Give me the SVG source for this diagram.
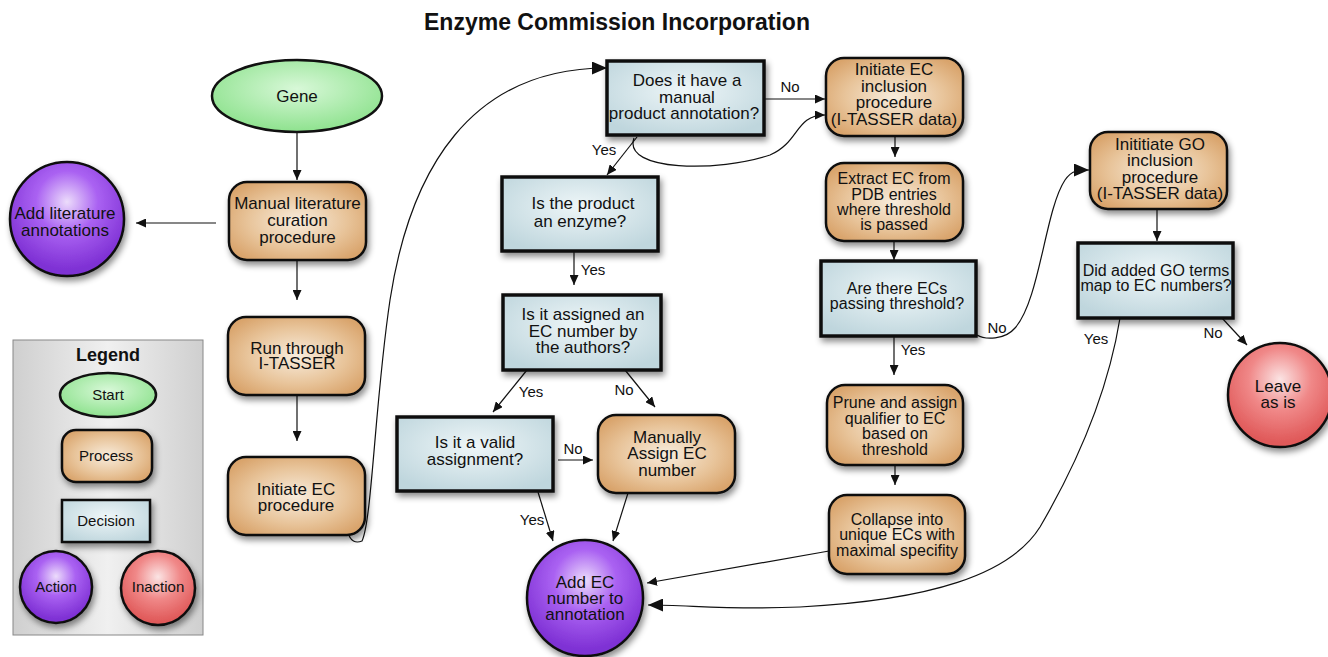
<svg xmlns="http://www.w3.org/2000/svg" width="1328" height="657" viewBox="0 0 1328 657">
  <style>
    text { font-family: "Liberation Sans", Arial, sans-serif; fill: #111; text-anchor: middle; }
    .t { font-size: 17px; }
    .s { font-size: 16px; }
    .lbl { font-size: 15px; }
    .title { font-size: 23px; font-weight: bold; }
    .legend-title { font-size: 18px; font-weight: bold; }
    .proc { fill: url(#gProc); stroke: #111; stroke-width: 2.5; filter: url(#shadow); }
    .dec { fill: url(#gDec); stroke: #111; stroke-width: 3.5; filter: url(#shadow); }
    .start { fill: url(#gStart); stroke: #111; stroke-width: 2.5; }
    .act { fill: url(#gAct); stroke: #111; stroke-width: 2.5; filter: url(#shadow); }
    .inact { fill: url(#gInact); stroke: #111; stroke-width: 2.5; filter: url(#shadow); }
    .edge { fill: none; stroke: #111; stroke-width: 1.2; marker-end: url(#arrow); }
    .edge-big { fill: none; stroke: #111; stroke-width: 1.2; marker-end: url(#arrowBig); }
  </style>
  <defs>
    <radialGradient id="gProc" cx="0.5" cy="0.5" r="0.6">
      <stop offset="0" stop-color="#f8ecdc"/>
      <stop offset="0.6" stop-color="#e8c49a"/>
      <stop offset="1" stop-color="#d9a46c"/>
    </radialGradient>
    <radialGradient id="gDec" cx="0.5" cy="0.4" r="0.65">
      <stop offset="0" stop-color="#eef6f8"/>
      <stop offset="1" stop-color="#bfd6dd"/>
    </radialGradient>
    <radialGradient id="gStart" cx="0.5" cy="0.4" r="0.6">
      <stop offset="0" stop-color="#d8f8d8"/>
      <stop offset="1" stop-color="#8ee28e"/>
    </radialGradient>
    <radialGradient id="gAct" cx="0.5" cy="0.35" r="0.6">
      <stop offset="0" stop-color="#ecdcfb"/>
      <stop offset="0.45" stop-color="#aa62f2"/>
      <stop offset="1" stop-color="#7e30d4"/>
    </radialGradient>
    <radialGradient id="gInact" cx="0.5" cy="0.35" r="0.6">
      <stop offset="0" stop-color="#fbe4e4"/>
      <stop offset="0.5" stop-color="#f08888"/>
      <stop offset="1" stop-color="#e05a5a"/>
    </radialGradient>
    <linearGradient id="gLegend" x1="0" y1="0" x2="1" y2="0">
      <stop offset="0" stop-color="#cfcfcf"/>
      <stop offset="0.5" stop-color="#f0f0f0"/>
      <stop offset="1" stop-color="#cfcfcf"/>
    </linearGradient>
    <filter id="shadow" x="-20%" y="-20%" width="140%" height="150%">
      <feDropShadow dx="2" dy="4" stdDeviation="3" flood-color="#000" flood-opacity="0.45"/>
    </filter>
    <marker id="arrow" markerUnits="userSpaceOnUse" markerWidth="11" markerHeight="9" refX="10" refY="4.5" orient="auto">
      <path d="M0,0 L10,4.5 L0,9 z" fill="#111"/>
    </marker>
    <marker id="arrowBig" markerUnits="userSpaceOnUse" markerWidth="16" markerHeight="13" refX="15" refY="6.5" orient="auto">
      <path d="M0,0 L15,6.5 L0,13 z" fill="#111"/>
    </marker>
  </defs>

  <rect width="1328" height="657" fill="#fff"/>

  <text class="title" x="617" y="30">Enzyme Commission Incorporation</text>

  <!-- legend -->
  <g id="legend">
    <rect x="13" y="340" width="190" height="295" fill="url(#gLegend)" stroke="#888" stroke-width="1"/>
    <text class="legend-title" x="108" y="361">Legend</text>
    <ellipse class="start" cx="108" cy="395" rx="48" ry="22"/>
    <text class="lbl" x="108" y="400">Start</text>
    <rect class="proc" x="62" y="430" width="90" height="52" rx="14"/>
    <text class="lbl" x="106" y="461">Process</text>
    <rect class="dec" x="62" y="500" width="88" height="42" style="stroke-width:2.5"/>
    <text class="lbl" x="106" y="526">Decision</text>
    <circle class="act" cx="56" cy="587" r="36"/>
    <text class="lbl" x="56" y="592">Action</text>
    <circle class="inact" cx="158" cy="588" r="37"/>
    <text class="lbl" x="158" y="592">Inaction</text>
  </g>

  <!-- connectors -->
  <g id="connectors">
    <path class="edge" d="M297,132 L297,180"/>
    <path class="edge" d="M216,223 L136,223"/>
    <path class="edge" d="M297,260 L297,300"/>
    <path class="edge" d="M297,395 L297,441"/>
    <path class="edge-big" d="M348,533 Q352,545 362,541 C372,520 375,400 390,300 C410,170 470,68 607,68"/>
    <path class="edge" d="M764,99 L825,99"/>
    <path class="edge" d="M634,138 C622,172 720,172 770,155 C800,142 795,115 825,115"/>
    <path class="edge" d="M637,137 L607,175"/>
    <path class="edge" d="M574,252 L574,285"/>
    <path class="edge" d="M527,370 L493,412"/>
    <path class="edge" d="M625,370 L655,407"/>
    <path class="edge" d="M558,460 L593,460"/>
    <path class="edge" d="M538,492 L553,541"/>
    <path class="edge" d="M628,493 L613,541"/>
    <path class="edge" d="M895,137 L895,157"/>
    <path class="edge" d="M894,242 L894,260"/>
    <path class="edge" d="M894,337 L894,375"/>
    <path class="edge" d="M895,465 L895,485"/>
    <path class="edge" d="M829,551 L647,583"/>
    <path class="edge-big" d="M977,335 C985,340 1005,340 1015,328 C1040,300 1045,210 1065,180 C1072,170 1078,170 1089,170"/>
    <path class="edge" d="M1157,209 L1157,241"/>
    <path class="edge" d="M1222,318 L1247,345"/>
    <path class="edge-big" d="M1120,318 C1110,380 1085,450 1040,527 C1010,575 930,600 800,607 C730,610 690,605 648,605"/>
    <text class="lbl" x="790" y="92">No</text>
    <text class="lbl" x="604" y="155">Yes</text>
    <text class="lbl" x="593" y="275">Yes</text>
    <text class="lbl" x="531" y="397">Yes</text>
    <text class="lbl" x="624" y="395">No</text>
    <text class="lbl" x="573" y="454">No</text>
    <text class="lbl" x="532" y="525">Yes</text>
    <text class="lbl" x="997" y="333">No</text>
    <text class="lbl" x="913" y="355">Yes</text>
    <text class="lbl" x="1096" y="344">Yes</text>
    <text class="lbl" x="1213" y="338">No</text>
  </g>

  <g id="gene">
    <ellipse class="start" cx="297" cy="96" rx="85" ry="36"/>
    <text class="t" x="297" y="102">Gene</text>
  </g>

  <g id="manual-curation">
    <rect class="proc" x="229" y="182" width="137" height="78" rx="18"/>
    <text class="t" x="297.5"><tspan x="297.5" y="209">Manual literature</tspan><tspan x="297.5" y="226">curation</tspan><tspan x="297.5" y="243">procedure</tspan></text>
  </g>

  <g id="add-literature">
    <circle class="act" cx="67" cy="219" r="57"/>
    <text class="t" x="65"><tspan x="65" y="219">Add literature</tspan><tspan x="65" y="236">annotations</tspan></text>
  </g>

  <g id="run-itasser">
    <rect class="proc" x="228" y="317" width="137" height="78" rx="18"/>
    <text class="t" x="297"><tspan x="297" y="354">Run through</tspan><tspan x="297" y="369">I-TASSER</tspan></text>
  </g>

  <g id="initiate-ec">
    <rect class="proc" x="228" y="457" width="137" height="78" rx="18"/>
    <text class="t" x="296"><tspan x="296" y="495">Initiate EC</tspan><tspan x="296" y="511">procedure</tspan></text>
  </g>

  <g id="manual-annotation">
    <rect class="dec" x="607" y="61" width="157" height="74"/>
    <text class="t" x="687"><tspan x="687" y="86">Does it have a</tspan><tspan x="687" y="103">manual</tspan><tspan x="684" y="119">product annotation?</tspan></text>
  </g>

  <g id="is-enzyme">
    <rect class="dec" x="502" y="177" width="156" height="74"/>
    <text class="t" x="582"><tspan x="583" y="209">Is the product</tspan><tspan x="580" y="227">an enzyme?</tspan></text>
  </g>

  <g id="assigned-ec">
    <rect class="dec" x="503" y="295" width="158" height="75"/>
    <text class="t" x="583"><tspan x="583" y="320">Is it assigned an</tspan><tspan x="583" y="337">EC number by</tspan><tspan x="583" y="353">the authors?</tspan></text>
  </g>

  <g id="valid-assignment">
    <rect class="dec" x="397" y="417" width="156" height="74"/>
    <text class="t" x="475"><tspan x="475" y="448">Is it a valid</tspan><tspan x="475" y="465">assignment?</tspan></text>
  </g>

  <g id="manually-assign">
    <rect class="proc" x="598" y="415" width="137" height="78" rx="18"/>
    <text class="t" x="667"><tspan x="667" y="443">Manually</tspan><tspan x="667" y="459">Assign EC</tspan><tspan x="667" y="476">number</tspan></text>
  </g>

  <g id="add-ec">
    <circle class="act" cx="585" cy="598" r="58"/>
    <text class="t" x="585"><tspan x="585" y="588">Add EC</tspan><tspan x="585" y="604">number to</tspan><tspan x="585" y="620">annotation</tspan></text>
  </g>

  <g id="ec-inclusion">
    <rect class="proc" x="826" y="58" width="137" height="78" rx="18"/>
    <text class="t" x="894"><tspan x="894" y="75">Initiate EC</tspan><tspan x="894" y="92">inclusion</tspan><tspan x="894" y="108">procedure</tspan><tspan x="894" y="125">(I-TASSER data)</tspan></text>
  </g>

  <g id="extract-ec">
    <rect class="proc" x="826" y="163" width="137" height="78" rx="18"/>
    <text class="s" x="894"><tspan x="894" y="184">Extract EC from</tspan><tspan x="894" y="200">PDB entries</tspan><tspan x="894" y="215">where threshold</tspan><tspan x="894" y="230">is passed</tspan></text>
  </g>

  <g id="ecs-passing">
    <rect class="dec" x="821" y="261" width="155" height="75"/>
    <text class="s" x="897"><tspan x="897" y="294">Are there ECs</tspan><tspan x="897" y="309">passing threshold?</tspan></text>
  </g>

  <g id="prune-assign">
    <rect class="proc" x="827" y="385" width="136" height="80" rx="18"/>
    <text class="s" x="895"><tspan x="895" y="408">Prune and assign</tspan><tspan x="895" y="424">qualifier to EC</tspan><tspan x="895" y="439">based on</tspan><tspan x="895" y="455">threshold</tspan></text>
  </g>

  <g id="collapse">
    <rect class="proc" x="829" y="495" width="136" height="79" rx="18"/>
    <text class="s" x="897"><tspan x="897" y="525">Collapse into</tspan><tspan x="897" y="540">unique ECs with</tspan><tspan x="897" y="556">maximal specifity</tspan></text>
  </g>

  <g id="go-inclusion">
    <rect class="proc" x="1090" y="132" width="137" height="77" rx="18"/>
    <text class="t" x="1160"><tspan x="1160" y="150">Inititiate GO</tspan><tspan x="1160" y="166">inclusion</tspan><tspan x="1160" y="183">procedure</tspan><tspan x="1160" y="199">(I-TASSER data)</tspan></text>
  </g>

  <g id="go-map">
    <rect class="dec" x="1078" y="243" width="155" height="75"/>
    <text class="s" x="1156"><tspan x="1156" y="276">Did added GO terms</tspan><tspan x="1156" y="291">map to EC numbers?</tspan></text>
  </g>

  <g id="leave-as-is">
    <circle class="inact" cx="1280" cy="395" r="52"/>
    <text class="t" x="1278"><tspan x="1278" y="392">Leave</tspan><tspan x="1278" y="408">as is</tspan></text>
  </g>
</svg>
